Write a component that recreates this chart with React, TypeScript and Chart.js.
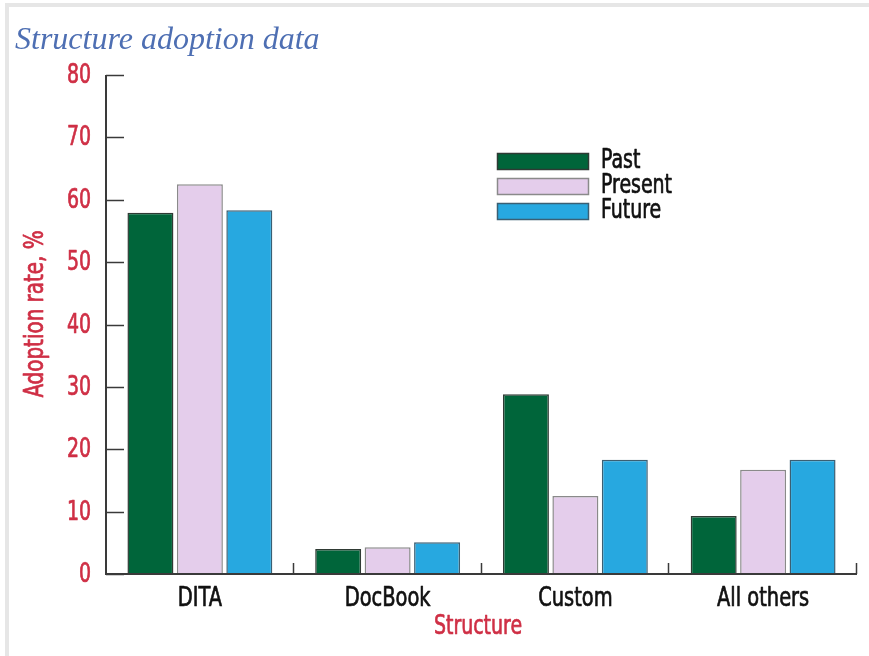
import React, { useEffect, useRef } from "react";
import { Chart, registerables } from "chart.js";

Chart.register(...registerables);

const categories = ["DITA", "DocBook", "Custom", "All others"];
const seriesNames = ["Past", "Present", "Future"];
const pastValues = [57.9, 4.0, 28.8, 9.3];
const presentValues = [62.5, 4.3, 12.5, 16.7];
const futureValues = [58.3, 5.1, 18.3, 18.3];
const yTicks = [0, 10, 20, 30, 40, 50, 60, 70, 80];

const colors = ["#00653a", "#e4cdeb", "#27a8e0"];
const borders = ["#2f3a34", "#8a8a8a", "#3b5f73"];

const RED = "#cf2f45";
const COND = "'DejaVu Sans Condensed', 'DejaVu Sans', sans-serif";

function txt(
  ctx: CanvasRenderingContext2D,
  s: string,
  x: number,
  y: number,
  align: CanvasTextAlign,
  size: number,
  color: string,
  sx: number,
  rot = 0
) {
  ctx.save();
  ctx.translate(x, y);
  if (rot) ctx.rotate(rot);
  ctx.scale(sx, 1);
  ctx.font = `${size}px ${COND}`;
  ctx.textAlign = align;
  ctx.textBaseline = "middle";
  ctx.fillStyle = color;
  ctx.strokeStyle = color;
  ctx.lineWidth = 0.7;
  ctx.lineJoin = "round";
  ctx.fillText(s, 0, 0);
  ctx.strokeText(s, 0, 0);
  ctx.restore();
}

const decorPlugin = {
  id: "decor",
  beforeDraw(chart: any) {
    const { ctx, width, height } = chart;
    ctx.save();
    ctx.fillStyle = "#ffffff";
    ctx.fillRect(0, 0, width, height);
    ctx.fillStyle = "#e6e6e6";
    ctx.fillRect(5, 3, width - 5, 4);
    ctx.fillRect(5, 3, 4, height - 3);
    ctx.restore();
  },
  afterDraw(chart: any) {
    const { ctx, chartArea } = chart;
    const x = chart.scales.x;
    const y = chart.scales.y;
    ctx.save();
    // title
    ctx.fillStyle = "#4e6fb3";
    ctx.font = "italic 32px 'Liberation Serif', 'DejaVu Serif', serif";
    ctx.textBaseline = "alphabetic";
    ctx.textAlign = "left";
    ctx.fillText("Structure adoption data", 15, 49);

    // axes
    ctx.strokeStyle = "#3a3a3a";
    ctx.lineWidth = 2;
    ctx.beginPath();
    ctx.moveTo(chartArea.left, chartArea.top);
    ctx.lineTo(chartArea.left, chartArea.bottom);
    ctx.lineTo(chartArea.right, chartArea.bottom);
    ctx.stroke();
    // y tick marks inward + labels
    yTicks.forEach((v) => {
      const py = Math.round(y.getPixelForValue(v)) + 0.5;
      ctx.strokeStyle = "#3a3a3a";
      ctx.lineWidth = 1.5;
      ctx.beginPath();
      ctx.moveTo(chartArea.left, py);
      ctx.lineTo(chartArea.left + 18, py);
      ctx.stroke();
      txt(ctx, String(v), 91, py, "right", 27, RED, 0.78);
    });
    // x category boundary ticks (upward)
    const n = categories.length;
    const step = (chartArea.right - chartArea.left) / n;
    ctx.strokeStyle = "#3a3a3a";
    ctx.lineWidth = 1.5;
    for (let i = 1; i <= n; i++) {
      const px = Math.round(chartArea.left + step * i) - 0.5;
      ctx.beginPath();
      ctx.moveTo(px, chartArea.bottom);
      ctx.lineTo(px, chartArea.bottom - 11);
      ctx.stroke();
    }
    // x labels
    categories.forEach((c, i) => {
      txt(ctx, c, x.getPixelForValue(i), 599, "center", 27, "#111111", 0.8);
    });
    // axis titles
    txt(ctx, "Structure", 478, 627, "center", 27, RED, 0.78);
    txt(ctx, "Adoption rate, %", 36, 314, "center", 27, RED, 0.82, -Math.PI / 2);

    // legend
    const lx = 497;
    const ly = [153, 178, 203];
    chart.data.datasets.forEach((ds: any, i: number) => {
      ctx.fillStyle = ds.backgroundColor;
      ctx.fillRect(lx, ly[i], 92, 17);
      ctx.strokeStyle = ds.borderColor;
      ctx.lineWidth = 1.5;
      ctx.strokeRect(lx + 0.5, ly[i] + 0.5, 91, 16);
      txt(ctx, ds.label, 601, ly[i] + 8, "left", 27, "#111111", 0.78);
    });
    ctx.restore();
  },
};

export default function App() {
  const ref = useRef<HTMLCanvasElement>(null);
  useEffect(() => {
    document.body.style.margin = "0";
    const chart = new Chart(ref.current as HTMLCanvasElement, {
      type: "bar",
      data: {
        labels: categories,
        datasets: [pastValues, presentValues, futureValues].map((vals, i) => ({
          label: seriesNames[i],
          data: vals,
          backgroundColor: colors[i],
          borderColor: borders[i],
          borderWidth: 1.5,
          categoryPercentage: 0.79,
          barPercentage: 0.93,
        })),
      },
      options: {
        responsive: false,
        animation: false,
        layout: { padding: { top: 75, right: 12, left: 0, bottom: 0 } },
        plugins: {
          legend: { display: false },
          title: { display: false },
          tooltip: { enabled: false },
        },
        scales: {
          x: {
            grid: { display: false, drawTicks: false },
            border: { display: false },
            ticks: { display: false },
            afterFit(s: any) {
              s.height = 82;
            },
          },
          y: {
            min: 0,
            max: 80,
            grid: { display: false, drawTicks: false },
            border: { display: false },
            afterBuildTicks(s: any) {
              s.ticks = yTicks.map((v) => ({ value: v }));
            },
            ticks: { display: false },
            afterFit(s: any) {
              s.width = 106;
            },
          },
        },
      },
      plugins: [decorPlugin],
    });
    return () => chart.destroy();
  }, []);
  return (
    <div style={{ position: "relative", width: 869, height: 656 }}>
      <canvas ref={ref} width={869} height={656} style={{ display: "block", width: 869, height: 656 }} />
    </div>
  );
}
